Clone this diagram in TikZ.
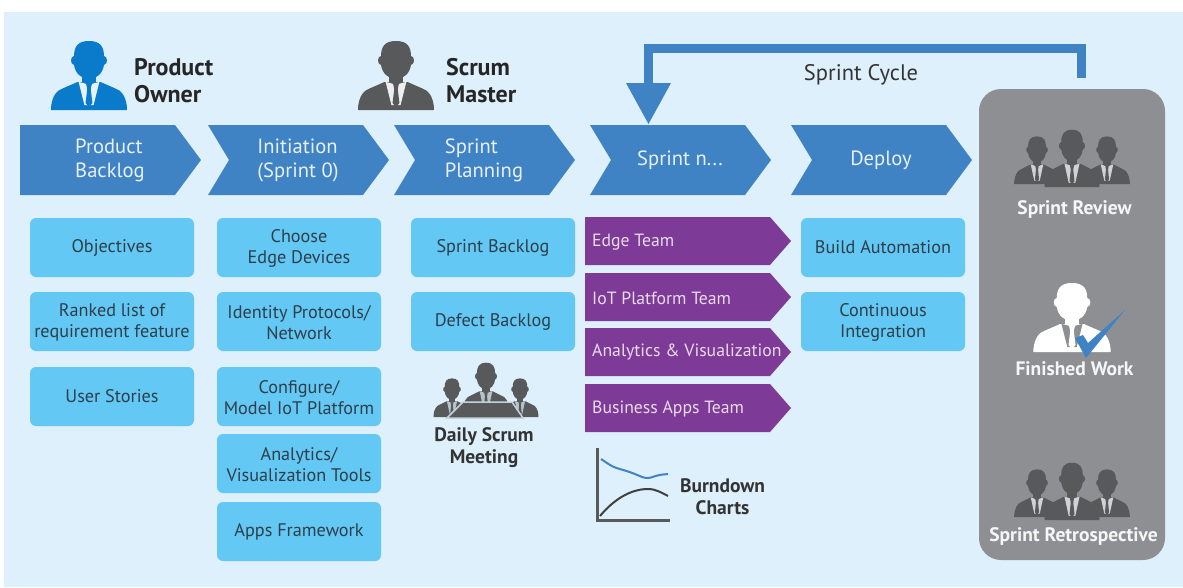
\documentclass[tikz,border=0pt]{standalone}
\usepackage{fontspec}
\setmainfont{PT Sans}
\definecolor{bgblue}{HTML}{DEF0FB}
\definecolor{chev}{HTML}{3F83C5}
\definecolor{lbox}{HTML}{63C8F3}
\definecolor{purp}{HTML}{7D3A96}
\definecolor{panel}{HTML}{8E8F93}
\definecolor{dark}{HTML}{58595B}
\definecolor{ownerblue}{HTML}{0A7BCB}
\definecolor{inktext}{HTML}{2E3E4A}
\newcommand\personicon[7]{% x, y(bottom), scale, x-stretch, body, shirt, tie
\begin{scope}[shift={(#1,#2)},scale=#3,xscale=#4]
\fill[#5] (-33,0) -- (-33,-3) .. controls (-32,-14) and (-28,-20) .. (-22,-22) -- (-10,-28) -- (10,-28) -- (22,-22) .. controls (28,-20) and (32,-14) .. (33,-3) -- (33,0) -- cycle;
\fill[#5] (-6,-40) rectangle (6,-26);
\fill[#5] (0,-69) .. controls (-10,-69) and (-13,-63) .. (-13,-54) .. controls (-16,-54) and (-17,-46) .. (-13,-45) .. controls (-12,-37) and (-7,-31) .. (0,-31) .. controls (7,-31) and (12,-37) .. (13,-45) .. controls (17,-46) and (16,-54) .. (13,-54) .. controls (13,-63) and (10,-69) .. (0,-69) -- cycle;
\fill[#6] (-9,-28) -- (-4,-5) -- (4,-5) -- (9,-28) -- (5,-27) -- (0,-25) -- (-5,-27) -- cycle;
\fill[#7] (-2.5,-26) -- (2.5,-26) -- (1.5,-21) -- (3,-7) -- (0,-3) -- (-3,-7) -- (-1.5,-21) -- cycle;
\end{scope}}
\newcommand\teamicon[2]{% centre x, bottom y of middle person
\personicon{#1-35}{#2-3}{.69}{1}{dark}{panel!40!white}{dark}
\personicon{#1+35}{#2-3}{.69}{1}{dark}{panel!40!white}{dark}
\personicon{#1}{#2}{.83}{1}{dark}{panel!40!white}{dark}}
\newcommand\chevronbar[4]{% name, left x, text, notch depth
\fill[chev] (#2,125) -- (#2+155,125) -- (#2+181,160) -- (#2+155,195) -- (#2,195) -- (#2+#4,160) -- cycle;
\node[chevtext] (#1) at (#2+90,160.5) {#3};}
\tikzset{
 lightbox/.style={fill=lbox,rounded corners=6pt,minimum width=164pt,minimum height=59pt,inner sep=0pt,align=center,text=inktext,font=\fontsize{18.2}{21}\selectfont},
 chevtext/.style={align=left,text=white!88!chev,font=\fontsize{20.6}{24}\selectfont},
 purptext/.style={anchor=west,text=white!82!purp,font=\fontsize{17.7}{21}\selectfont,inner sep=0pt},
 roletext/.style={align=left,anchor=west,text=black!85,inner sep=0pt,font=\fontsize{24}{27}\bfseries\selectfont},
 captext/.style={align=center,text=black!80,inner sep=0pt,font=\fontsize{19.5}{22}\bfseries\selectfont},
 paneltext/.style={align=center,text=white!92!panel,inner sep=0pt,font=\fontsize{19.5}{20}\bfseries\selectfont},
}
\begin{document}
\begin{tikzpicture}[x=1pt,y=-1pt]
\useasboundingbox (0,0) rectangle (1183,587);
\fill[white] (0,0) rectangle (1183,587);
\fill[bgblue] (4,12) rectangle (1183,587);
% owner and master
\personicon{89}{110}{1}{1.15}{ownerblue}{white!90!ownerblue}{ownerblue}
\node[roletext] (owner) at (134,81) {Product\\Owner};
\personicon{396}{110}{1}{1.15}{dark}{white!90!dark}{dark}
\node[roletext] (master) at (446,81) {Scrum\\Master};
% chevrons
\chevronbar{backlog}{20}{Product\\Backlog}{0}
\chevronbar{init}{208}{Initiation\\(Sprint 0)}{21}
\chevronbar{plan}{394}{Sprint\\Planning}{21}
\chevronbar{sprintn}{590}{Sprint n...}{21}
\chevronbar{deploy}{791}{Deploy}{21}
% light boxes
\node[lightbox] (a1) at (112,247.5) {Objectives};
\node[lightbox] (a2) at (112,321.5) {\rule{0pt}{15pt}Ranked list of\\requirement feature};
\node[lightbox] (a3) at (112,396.5) {User Stories};
\node[lightbox] (b1) at (299,247.5) {\rule{0pt}{15pt}Choose\\Edge Devices};
\node[lightbox] (b2) at (299,321.5) {\rule{0pt}{15pt}Identity Protocols/\\Network};
\node[lightbox] (b3) at (299,396.5) {\rule{0pt}{15pt}Configure/\\Model IoT Platform};
\node[lightbox] (b4) at (299,463.5) {\rule{0pt}{15pt}Analytics/\\Visualization Tools};
\node[lightbox] (b5) at (299,531.5) {Apps Framework};
\node[lightbox] (c1) at (493,247.5) {Sprint Backlog};
\node[lightbox] (c2) at (493,321.5) {Defect Backlog};
\node[lightbox] (e1) at (883,247.5) {Build Automation};
\node[lightbox] (e2) at (883,321.5) {\rule{0pt}{15pt}Continuous\\Integration};
% purple tags
\foreach \yy in {217,273,328,384} {
 \fill[purp] (585,\yy) -- (770,\yy) -- (791,\yy+24) -- (770,\yy+48) -- (585,\yy+48) -- cycle;
}
\node[purptext] (t1) at (592,242.5) {Edge Team};
\node[purptext] (t2) at (592,298.5) {IoT Platform Team};
\node[purptext] (t3) at (592,352.5) {Analytics \& Visualization};
\node[purptext] (t4) at (592,408.5) {Business Apps Team};
% daily scrum
\personicon{452}{417}{.56}{1}{dark}{bgblue!70!dark}{dark}
\personicon{520}{417}{.56}{1}{dark}{bgblue!70!dark}{dark}
\personicon{486}{411}{.7}{1}{dark}{bgblue!70!dark}{dark}
\fill[dark,draw=bgblue!80!dark,line width=1.5pt] (447,418) -- (463,402) -- (512,402) -- (523,418) -- cycle;
\node[captext] (daily) at (484,447.5) {Daily Scrum\\Meeting};
% burndown
\draw[dark,line width=3pt] (597,448) -- (597,520) -- (670,520);
\draw[chev,line width=2pt,rounded corners=5pt] (601,459) -- (613,467) -- (630,472) -- (647,479) -- (658,475) -- (668,474);
\draw[black!75,line width=2pt] (600,516) .. controls (615,498) and (632,489) .. (648,489) .. controls (656,489) and (662,493) .. (668,496);
\node[captext] (burn) at (722.5,497) {Burndown\\Charts};
% sprint cycle arrow
\coordinate (loopstart) at (1081,78);
\coordinate (loopturn) at (1081,48.5);
\coordinate (loopend) at (648.5,86);
\draw[chev,line width=9pt] (loopstart) -- (loopturn) -| (loopend);
\fill[chev] (626,83) -- (671,83) -- (648.5,124) -- cycle;
\node[font=\fontsize{22.5}{24}\selectfont,text=black!80,inner sep=0pt] (cycle) at (861,74.5) {Sprint Cycle};
% right panel
\fill[panel,rounded corners=22pt] (979,89) rectangle (1165,560);
\teamicon{1072}{187}
\node[paneltext] (review) at (1074.5,209.5) {Sprint Review};
\personicon{1072}{352}{1}{1.17}{white}{panel}{white}
\fill[chev] (1075,338) -- (1083,335) -- (1088,343) -- (1125,310) -- (1086,358) -- cycle;
\node[paneltext] (finished) at (1074.5,369) {Finished Work};
\teamicon{1072}{520}
\node[paneltext] (retro) at (1073.5,536.5) {Sprint Retrospective};
\end{tikzpicture}
\end{document}
